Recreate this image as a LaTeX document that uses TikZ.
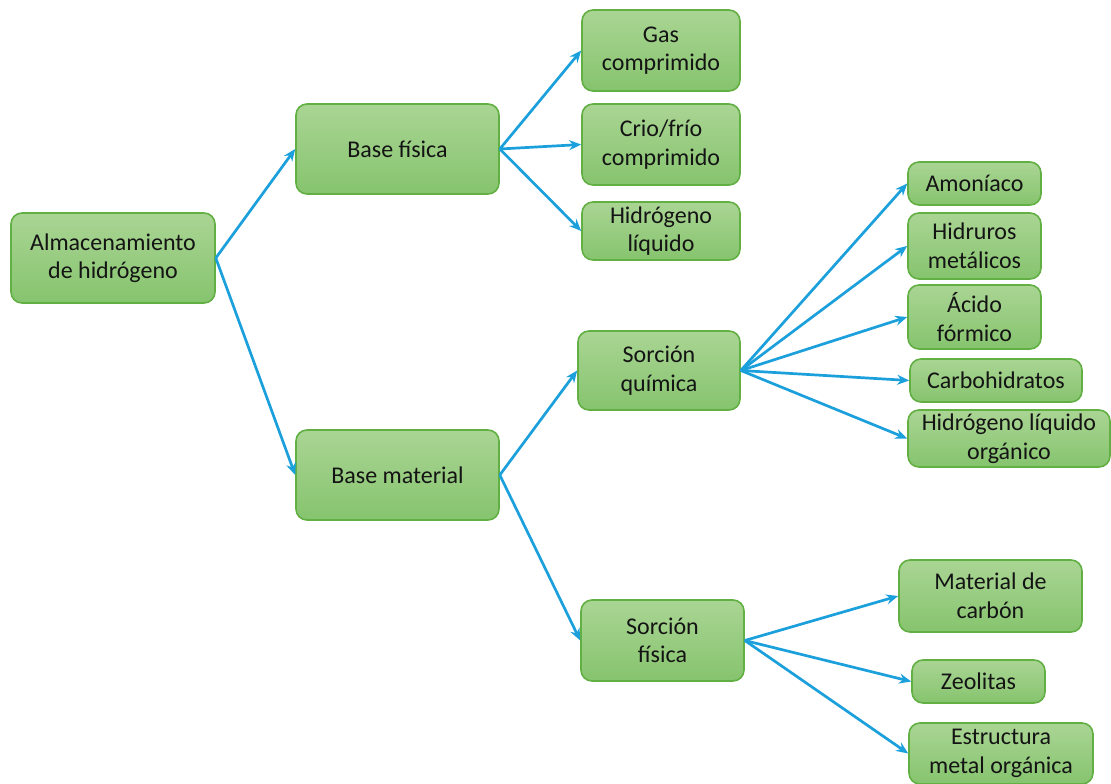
\documentclass[tikz,border=0pt]{standalone}
\usepackage{fontspec}
\setmainfont{Carlito}
\usetikzlibrary{arrows.meta}
\definecolor{boxtop}{RGB}{170,213,148}
\definecolor{boxbot}{RGB}{134,196,110}
\definecolor{boxline}{RGB}{98,176,68}
\definecolor{arr}{RGB}{27,160,220}
\tikzset{
  gbox/.style={rectangle, rounded corners=11pt, draw=boxline, line width=1.6pt,
    top color=boxtop, bottom color=boxbot, inner sep=0pt, align=center,
    font=\fontsize{24}{28.5}\selectfont, text={rgb,255:red,20;green,20;blue,20}},
  conn/.style={draw=arr, line width=2.7pt, -{Stealth[length=12pt,width=10pt]}}
}
\newcommand{\bx}[5]{\node[gbox, minimum width=#3pt, minimum height=#4pt] (#1) at (#2) {#5};}
\begin{document}
\begin{tikzpicture}[x=1pt,y=-1pt]
\useasboundingbox (0,0) rectangle (1111,784);
\bx{alm}{113,258}{204}{90}{Almacenamiento\\de hidrógeno}
\bx{bf}{397.5,149}{203}{90}{Base física}
\bx{bm}{397.5,475}{203}{90}{Base material}
\bx{gas}{661,50.5}{158}{81}{Gas\\comprimido}
\bx{crio}{661,144.5}{158}{81}{Crio/frío\\comprimido}
\bx{hl}{661,231}{158}{58}{Hidrógeno\\líquido}
\bx{sq}{659,370.5}{162}{79}{Sorción\\química}
\bx{sf}{662.5,640.5}{163}{81}{Sorción\\física}
\bx{amo}{974.5,183.5}{133}{43}{Amoníaco}
\bx{hid}{974.5,246}{133}{66}{Hidruros\\metálicos}
\bx{acf}{974.5,317}{133}{64}{Ácido\\fórmico}
\bx{car}{996,380.5}{172}{43}{Carbohidratos}
\bx{hlo}{1009,438.5}{202}{57}{Hidrógeno líquido\\orgánico}
\bx{mc}{990.5,596}{183}{72}{Material de\\carbón}
\bx{zeo}{978.5,681.5}{133}{43}{Zeolitas}
\bx{emo}{1001,753.5}{184}{61}{Estructura\\metal orgánica}
\draw[conn] (alm.east) -- (bf.west);
\draw[conn] (alm.east) -- (bm.west);
\draw[conn] (bf.east) -- (gas.west);
\draw[conn] (bf.east) -- (crio.west);
\draw[conn] (bf.east) -- (hl.west);
\draw[conn] (bm.east) -- (sq.west);
\draw[conn] (bm.east) -- (sf.west);
\draw[conn] (sq.east) -- (amo.west);
\draw[conn] (sq.east) -- (hid.west);
\draw[conn] (sq.east) -- (acf.west);
\draw[conn] (sq.east) -- (car.west);
\draw[conn] (sq.east) -- (hlo.west);
\draw[conn] (sf.east) -- (mc.west);
\draw[conn] (sf.east) -- (zeo.west);
\draw[conn] (sf.east) -- (emo.west);
\end{tikzpicture}
\end{document}
